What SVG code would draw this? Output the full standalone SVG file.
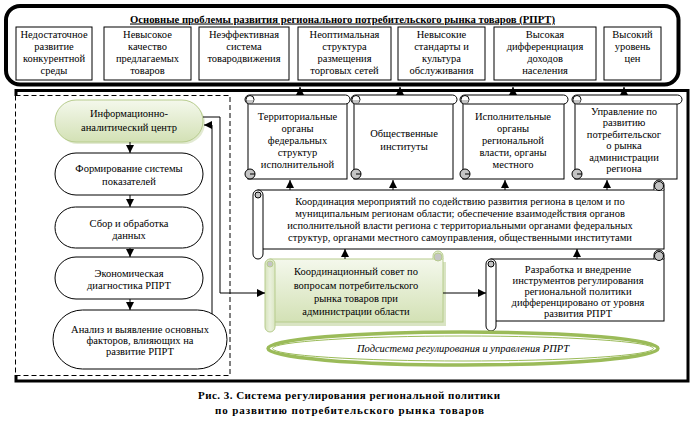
<svg xmlns="http://www.w3.org/2000/svg" width="690" height="428" viewBox="0 0 690 428" font-family="'Liberation Serif', 'DejaVu Serif', serif">
<defs>
<linearGradient id="gr" x1="0" y1="0" x2="0" y2="1">
<stop offset="0" stop-color="#f4f8ec"/>
<stop offset="1" stop-color="#d3e1b5"/>
</linearGradient>
<linearGradient id="gr2" x1="0" y1="0" x2="1" y2="0">
<stop offset="0" stop-color="#d6e3bc"/>
<stop offset="0.5" stop-color="#eaf1dc"/>
<stop offset="1" stop-color="#dbe6c4"/>
</linearGradient>
<marker id="ah" viewBox="0 0 10 10" refX="10" refY="5" markerWidth="8" markerHeight="8" markerUnits="userSpaceOnUse" orient="auto">
<path d="M0,0 L10,5 L0,10 Z" fill="#000"/>
</marker>
</defs>
<style>
text{font-family:'Liberation Serif','DejaVu Serif',serif;font-size:10.5px;fill:#000;text-anchor:middle}
.box{fill:#fff;stroke:#000;stroke-width:1}
.pill{fill:#fff;stroke:#000;stroke-width:1}
.curl{fill:#c4c4c4;stroke:#000;stroke-width:1}
.ln{fill:none;stroke:#000;stroke-width:1}
.ar{fill:none;stroke:#000;stroke-width:1;marker-end:url(#ah)}
.cap{font-weight:bold;font-size:11px;text-anchor:start}
</style>
<rect width="690" height="428" fill="#fff"/>

<g id="problems">
<rect x="6" y="6" width="672.5" height="78.5" rx="14" fill="#fff" stroke="#000" stroke-width="4"/>
<text x="342.5" y="22.5" font-weight="bold" style="font-size:10.5px" text-decoration="underline" textLength="425" lengthAdjust="spacingAndGlyphs">Основные проблемы развития регионального потребительского рынка товаров (РПРТ)</text>
<g id="p1"><rect class="box" x="16" y="27" width="76" height="53"/>
<text x="54" y="37.5">Недостаточное</text><text x="54" y="49.5">развитие</text><text x="54" y="61.5">конкурентной</text><text x="54" y="73.5">среды</text></g>
<g id="p2"><rect class="box" x="104" y="27" width="87" height="53"/>
<text x="147.5" y="37.5">Невысокое</text><text x="147.5" y="49.5">качество</text><text x="147.5" y="61.5">предлагаемых</text><text x="147.5" y="73.5">товаров</text></g>
<g id="p3"><rect class="box" x="199" y="27" width="90" height="53"/>
<text x="244" y="37.5">Неэффективная</text><text x="244" y="49.5">система</text><text x="244" y="61.5">товародвижения</text></g>
<g id="p4"><rect class="box" x="298" y="27" width="93" height="53"/>
<text x="344.5" y="37.5">Неоптимальная</text><text x="344.5" y="49.5">структура</text><text x="344.5" y="61.5">размещения</text><text x="344.5" y="73.5">торговых сетей</text></g>
<g id="p5"><rect class="box" x="398" y="27" width="87" height="53"/>
<text x="441.5" y="37.5">Невысокие</text><text x="441.5" y="49.5">стандарты и</text><text x="441.5" y="61.5">культура</text><text x="441.5" y="73.5">обслуживания</text></g>
<g id="p6"><rect class="box" x="494" y="27" width="102" height="53"/>
<text x="545" y="37.5">Высокая</text><text x="545" y="49.5">дифференциация</text><text x="545" y="61.5">доходов</text><text x="545" y="73.5">населения</text></g>
<g id="p7"><rect class="box" x="604" y="27" width="57" height="53"/>
<text x="632.5" y="37.5">Высокий</text><text x="632.5" y="49.5">уровень</text><text x="632.5" y="61.5">цен</text></g>
</g>

<g id="frame">
<path d="M16,96 V90.5 H688 V381 H16 V375" fill="none" stroke="#000" stroke-width="3"/>
<rect x="15.5" y="95.5" width="214.5" height="280" fill="none" stroke="#000" stroke-width="1" stroke-dasharray="5,3"/>
</g>

<g id="n1">
<rect x="57" y="102" width="148" height="42" rx="21" fill="#cfdcb4" opacity="0.6"/>
<rect x="55" y="100" width="148" height="42" rx="21" fill="url(#gr)" stroke="#b7cc8d" stroke-width="1"/>
<text x="129" y="117">Информационно-</text><text x="129" y="131">аналитический центр</text>
</g>
<g id="n2"><rect class="pill" x="55" y="153" width="148" height="42" rx="21"/>
<text x="129" y="172">Формирование системы</text><text x="129" y="185">показателей</text></g>
<g id="n3"><rect class="pill" x="55" y="207" width="148" height="41" rx="20.5"/>
<text x="129" y="227">Сбор и обработка</text><text x="129" y="238.5">данных</text></g>
<g id="n4"><rect class="pill" x="55" y="257" width="148" height="42" rx="21"/>
<text x="129" y="277">Экономическая</text><text x="129" y="288.5">диагностика РПРТ</text></g>
<g id="n5"><rect class="pill" x="53" y="310" width="174" height="59" rx="29.5"/>
<text x="140" y="332.5">Анализ и выявление основных</text><text x="140" y="343.5">факторов, влияющих на</text><text x="140" y="354.5">развитие РПРТ</text></g>

<g id="s1">
<rect class="box" x="248" y="99" width="99" height="80"/>
<rect class="box" x="245" y="95" width="105" height="9" rx="4.5"/>
<circle cx="250" cy="99.5" r="4" fill="#fff" stroke="#000"/><path d="M246.5,100 A3.5,3.5 0 0 0 253.5,100 Z" fill="#c4c4c4"/>
<circle class="curl" cx="250" cy="174" r="5"/><path d="M250,174 H255" class="ln"/>
<text x="297.5" y="120">Территориальные</text><text x="297.5" y="132">органы</text><text x="297.5" y="144">федеральных</text><text x="297.5" y="156">структур</text><text x="297.5" y="168">исполнительной</text>
</g>
<g id="s2">
<rect class="box" x="354" y="99" width="99" height="80"/>
<rect class="box" x="351" y="95" width="106" height="9" rx="4.5"/>
<circle cx="356" cy="99.5" r="4" fill="#fff" stroke="#000"/><path d="M352.5,100 A3.5,3.5 0 0 0 359.5,100 Z" fill="#c4c4c4"/>
<circle class="curl" cx="356" cy="174" r="5"/><path d="M356,174 H361" class="ln"/>
<text x="404" y="137">Общественные</text><text x="404" y="150">институты</text>
</g>
<g id="s3">
<rect class="box" x="463" y="99" width="101" height="80"/>
<rect class="box" x="460" y="95" width="108" height="9" rx="4.5"/>
<circle cx="465" cy="99.5" r="4" fill="#fff" stroke="#000"/><path d="M461.5,100 A3.5,3.5 0 0 0 468.5,100 Z" fill="#c4c4c4"/>
<circle class="curl" cx="465" cy="174" r="5"/><path d="M465,174 H470" class="ln"/>
<text x="513" y="120">Исполнительные</text><text x="513" y="132">органы</text><text x="513" y="144">региональной</text><text x="513" y="156">власти, органы</text><text x="513" y="168">местного</text>
</g>
<g id="s4">
<rect class="box" x="575" y="99" width="102" height="80"/>
<rect class="box" x="572" y="95" width="110" height="9" rx="4.5"/>
<circle cx="577" cy="99.5" r="4" fill="#fff" stroke="#000"/><path d="M573.5,100 A3.5,3.5 0 0 0 580.5,100 Z" fill="#c4c4c4"/>
<circle class="curl" cx="577" cy="174" r="5"/><path d="M577,174 H582" class="ln"/>
<text x="624" y="114.5">Управление по</text><text x="624" y="126">развитию</text><text x="624" y="137.5">потребительског</text><text x="624" y="149">о рынка</text><text x="624" y="160.5">администрации</text><text x="624" y="172">региона</text>
</g>

<g id="coord">
<rect class="box" x="258" y="190" width="406" height="59"/>
<path d="M654,190 V185 A5,5 0 0 1 664,185 V190" fill="#fff" stroke="#000"/>
<circle class="curl" cx="659" cy="186" r="4.5"/>
<rect class="box" x="253" y="190" width="10" height="69" rx="5"/>
<circle class="curl" cx="258" cy="195" r="3"/>
<text x="460" y="204.5">Координация мероприятий по содействию развития региона в целом и по</text>
<text x="460" y="216.5">муниципальным регионам области; обеспечение взаимодействия органов</text>
<text x="460" y="229">исполнительной власти региона с территориальными органами федеральных</text>
<text x="460" y="241">структур, органами местного самоуправления, общественными институтами</text>
</g>

<g id="council">
<rect x="273" y="262" width="173" height="64" fill="#c9d8aa" opacity="0.7"/>
<rect x="270" y="259" width="173" height="63" fill="url(#gr)" stroke="#b7cc8d"/>
<path d="M433,259 V256 A5,5 0 0 1 443,256 V259" fill="#e6eed6" stroke="#b7cc8d"/>
<circle cx="438" cy="257" r="4" fill="#c5c5c5" stroke="#b7cc8d"/>
<rect x="265" y="259" width="10" height="73" rx="5" fill="url(#gr2)" stroke="#b7cc8d"/>
<circle cx="270" cy="264" r="3" fill="#c5c5c5" stroke="#b7cc8d"/>
<text x="356" y="275">Координационный совет по</text><text x="356" y="288.5">вопросам потребительского</text><text x="356" y="302">рынка товаров при</text><text x="356" y="314.5">администрации области</text>
</g>

<g id="dev">
<rect class="box" x="491" y="259" width="173" height="62"/>
<path d="M654,259 V255 A5,5 0 0 1 664,255 V259" fill="#fff" stroke="#000"/>
<circle class="curl" cx="659" cy="256" r="4.5"/>
<rect class="box" x="486" y="259" width="10" height="72" rx="5"/>
<circle class="curl" cx="491" cy="264" r="3"/>
<text x="578" y="272.5">Разработка и внедрение</text><text x="578" y="283.5">инструментов регулирования</text><text x="578" y="294.5">региональной политики</text><text x="578" y="305.5">дифференцировано от уровня</text><text x="578" y="316.5">развития РПРТ</text>
</g>

<g id="subsystem">
<ellipse cx="463" cy="348.5" rx="195" ry="16.5" fill="#fff" stroke="#9bbb59" stroke-width="3.5"/>
<ellipse cx="463" cy="348.5" rx="190.5" ry="12.5" fill="none" stroke="#9bbb59" stroke-width="1"/>
<text x="463" y="352" font-style="italic">Подсистема регулирования и управления РПРТ</text>
</g>

<g id="connectors">
<path class="ar" d="M300,95 V87"/>
<path class="ar" d="M400,95 V87"/>
<path class="ar" d="M513,95 V87"/>
<path class="ar" d="M624,95 V87"/>
<path class="ar" d="M290,190 V180"/>
<path class="ar" d="M393,190 V180"/>
<path class="ar" d="M505,190 V180"/>
<path class="ar" d="M607,190 V180"/>
<path class="ar" d="M345,259 V249"/>
<path class="ar" d="M577,259 V249"/>
<path class="ar" d="M130,142 V153"/>
<path class="ar" d="M130,195 V207"/>
<path class="ar" d="M130,248 V257"/>
<path class="ar" d="M130,299 V310"/>
<path class="ar" d="M212,314 V125 H204"/>
<path class="ar" d="M203,117 H220 V293 H265"/>
<path class="ar" d="M443,293 H486"/>
</g>

<g id="caption">
<text class="cap" x="198" y="399" textLength="302" lengthAdjust="spacing">Рис. 3. Система регулирования региональной политики</text>
<text class="cap" x="215" y="414" textLength="269" lengthAdjust="spacing">по развитию потребительского рынка товаров</text>
</g>
</svg>
